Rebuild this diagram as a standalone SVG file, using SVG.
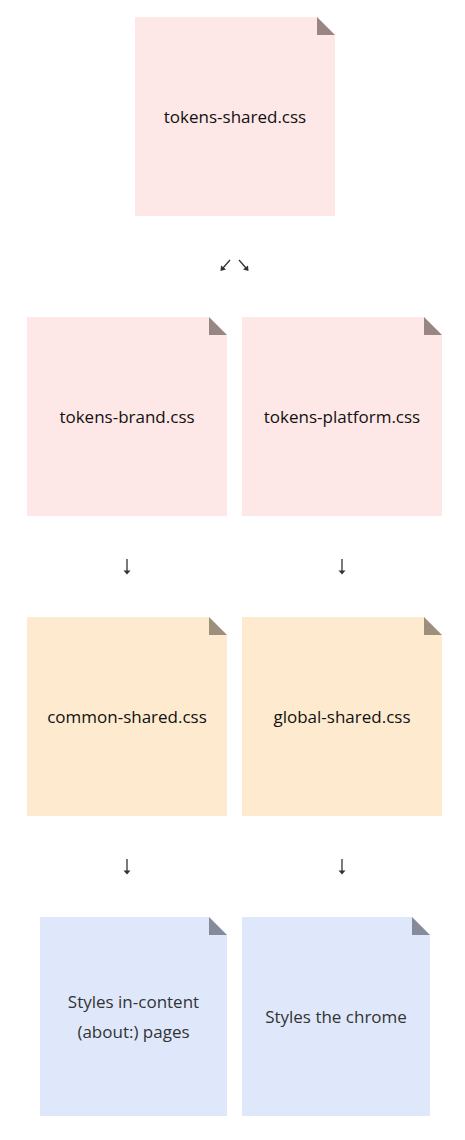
<svg xmlns="http://www.w3.org/2000/svg" width="465" height="1140" viewBox="0 0 465 1140">
<style>
.t{font-family:"Open Sans","Lato",sans-serif;font-size:17px;text-anchor:middle;fill:#111}
.tb{fill:#333}
.c{stroke:#333;stroke-width:1.3;fill:none}
.h{fill:#333}
.pink{fill:#fde7e7}.pinkf{fill:#9a8585}
.org{fill:#feebcf}.orgf{fill:#9d8f7c}
.blu{fill:#dfe8fa}.bluf{fill:#868a9b}
</style>
<rect width="465" height="1140" fill="#fff"/>
<g id="tokens-shared">
<polygon class="pink" points="135,17 317,17 335,35 335,216 135,216"/>
<polygon class="pinkf" points="317,17 317,35 335,35"/>
<text class="t" x="235" y="123">tokens-shared.css</text>
</g>
<g id="tokens-brand">
<polygon class="pink" points="27,317 209,317 227,335 227,516 27,516"/>
<polygon class="pinkf" points="209,317 209,335 227,335"/>
<text class="t" x="127" y="423">tokens-brand.css</text>
</g>
<g id="tokens-platform">
<polygon class="pink" points="242,317 424,317 442,335 442,516 242,516"/>
<polygon class="pinkf" points="424,317 424,335 442,335"/>
<text class="t" x="342" y="423">tokens-platform.css</text>
</g>
<g id="common-shared">
<polygon class="org" points="27,617 209,617 227,635 227,816 27,816"/>
<polygon class="orgf" points="209,617 209,635 227,635"/>
<text class="t" x="127" y="723">common-shared.css</text>
</g>
<g id="global-shared">
<polygon class="org" points="242,617 424,617 442,635 442,816 242,816"/>
<polygon class="orgf" points="424,617 424,635 442,635"/>
<text class="t" x="342" y="723">global-shared.css</text>
</g>
<g id="in-content">
<polygon class="blu" points="40,917 209,917 227,935 227,1116 40,1116"/>
<polygon class="bluf" points="209,917 209,935 227,935"/>
<text class="t tb" x="133.5" y="1008">Styles in-content</text>
<text class="t tb" x="133.5" y="1038">(about:) pages</text>
</g>
<g id="chrome">
<polygon class="blu" points="242,917 412,917 430,935 430,1116 242,1116"/>
<polygon class="bluf" points="412,917 412,935 430,935"/>
<text class="t tb" x="336" y="1023">Styles the chrome</text>
</g>
<g id="connectors">
<path class="c" d="M230,260 L223,268"/>
<polygon class="h" points="220.5,271 221,265.5 226,269.5"/>
<path class="c" d="M239,260 L246,268"/>
<polygon class="h" points="248.5,271 243,269.5 248,265.5"/>
<path class="c" d="M127,559 L127,571"/>
<polygon class="h" points="123.5,570.5 130.5,570.5 127,574.5"/>
<path class="c" d="M342,559 L342,571"/>
<polygon class="h" points="338.5,570.5 345.5,570.5 342,574.5"/>
<path class="c" d="M127,859 L127,871"/>
<polygon class="h" points="123.5,870.5 130.5,870.5 127,874.5"/>
<path class="c" d="M342,859 L342,871"/>
<polygon class="h" points="338.5,870.5 345.5,870.5 342,874.5"/>
</g>
</svg>
